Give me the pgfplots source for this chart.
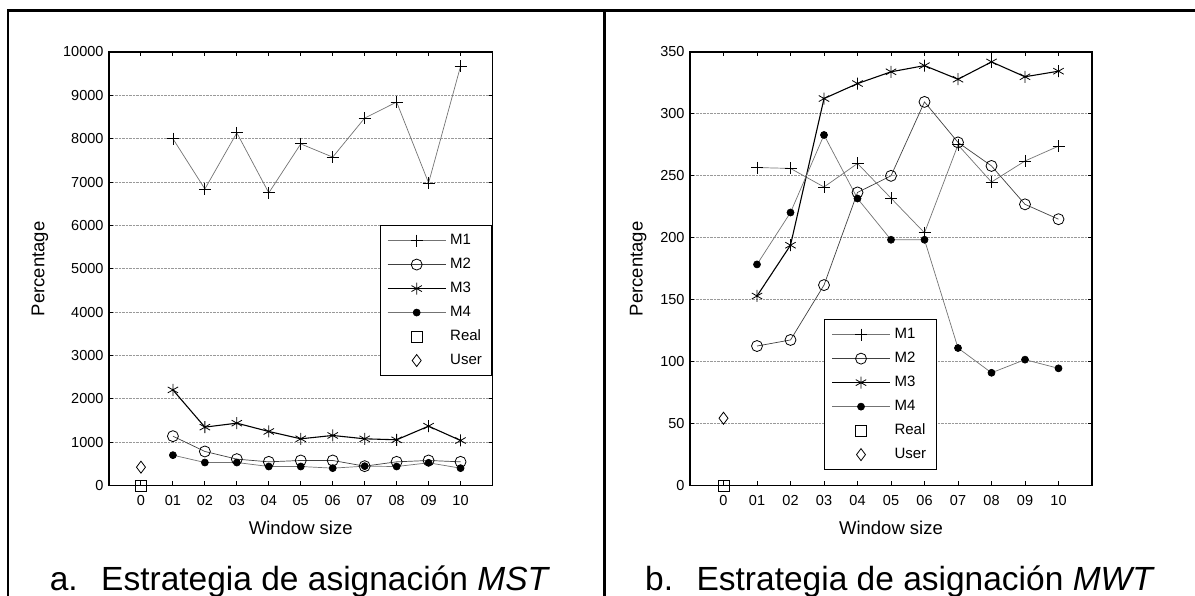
\documentclass[border=0pt]{standalone}
\usepackage{pgfplots}
\pgfplotsset{compat=1.18}
\usepackage{fontspec}
\setmainfont{Liberation Sans}
\definecolor{lgray}{gray}{0.45}
\definecolor{dgray}{gray}{0.25}
\definecolor{gridgray}{gray}{0.6}
\begin{document}
\begin{tikzpicture}
\pgfplotsset{
  common/.style={
    scale only axis,
    xmin=-1, xmax=11,
    xtick={0,1,...,10},
    xticklabels={0,01,02,03,04,05,06,07,08,09,10},
    tick label style={font=\fontsize{14.5}{17}\selectfont},
    /pgf/number format/assume math mode=true,
    /pgf/number format/1000 sep={},
    scaled y ticks=false,
    x tick label style={yshift=-6pt},
    y tick label style={xshift=-2pt},
    label style={font=\fontsize{18.5}{22}\selectfont},
    xlabel={Window size},
    ylabel={Percentage},
    xlabel style={at={(axis description cs:0.5,-0.098)}, anchor=center},
    ymajorgrids,
    grid style={gridgray, densely dotted, line width=0.9pt},
    axis line style={line width=1.3pt},
    major tick style={black, line width=1pt},
    major tick length=4pt,
    legend cell align=left,
    legend style={draw=black, line width=1.2pt, fill=white, anchor=north east,
      inner xsep=7pt, inner ysep=4.5pt, row sep=3pt,
      font=\fontsize{15}{18}\selectfont,
      nodes={inner sep=3pt, text height=11pt, text depth=4pt},
      /tikz/every odd column/.append style={column sep=1pt}},
    legend image code/.code={\draw[mark repeat=2,mark phase=2,##1] plot coordinates {(0pt,0pt) (29pt,0pt) (58pt,0pt)};},
  },
  m1/.style={color=lgray, line width=0.7pt, mark=+, mark size=6pt, mark options={black, solid, line width=0.8pt}},
  m2/.style={color=dgray, line width=0.7pt, mark=o, mark size=5.5pt, mark options={black, solid, fill=white, line width=0.8pt}},
  m3/.style={color=black, line width=1.1pt, mark=asterisk, mark size=6pt, mark options={black, solid, line width=0.8pt}},
  m4/.style={color=lgray, line width=0.7pt, mark=*, mark size=3.5pt, mark options={black, solid}},
  mreal/.style={only marks, mark=square, mark size=5.5pt, mark options={draw=black, solid, line width=0.8pt}},
  muser/.style={only marks, mark=diamond, mark size=6pt, mark options={draw=black, solid, line width=0.8pt}},
}
% ---------------- left panel (MST) ----------------
\begin{axis}[common, at={(109pt,110.5pt)}, anchor=south west,
  width=383.5pt, height=433.5pt,
  ymin=0, ymax=10000, ytick={0,1000,...,10000},
  ylabel style={at={(axis description cs:-0.18,0.5)}, anchor=center},
  legend style={at={(axis description cs:1,0.601)}}]
\addplot[m1] coordinates {(1,8000)(2,6840)(3,8135)(4,6750)(5,7880)(6,7575)(7,8475)(8,8845)(9,6980)(10,9670)};
\addlegendentry{M1}
\addplot[m2] coordinates {(1,1138)(2,785)(3,608)(4,546)(5,577)(6,577)(7,446)(8,546)(9,577)(10,546)};
\addlegendentry{M2}
\addplot[m3] coordinates {(1,2205)(2,1346)(3,1438)(4,1246)(5,1077)(6,1154)(7,1077)(8,1054)(9,1369)(10,1038)};
\addlegendentry{M3}
\addplot[m4] coordinates {(1,700)(2,530)(3,530)(4,438)(5,438)(6,400)(7,446)(8,438)(9,523)(10,400)};
\addlegendentry{M4}
\addplot[mreal] coordinates {(0,0)};
\addlegendentry{Real}
\addplot[muser] coordinates {(0,423)};
\addlegendentry{User}
\end{axis}
% ---------------- right panel (MWT) ----------------
\begin{axis}[common, at={(690pt,110.5pt)}, anchor=south west,
  width=402pt, height=433.5pt,
  ymin=0, ymax=350, ytick={0,50,...,350},
  ylabel style={at={(axis description cs:-0.129,0.5)}, anchor=center},
  legend style={at={(axis description cs:0.614,0.384)}}]
\addplot[m1] coordinates {(1,256.7)(2,256)(3,241)(4,260)(5,232)(6,204)(7,275)(8,245)(9,262)(10,274)};
\addlegendentry{M1}
\addplot[m2] coordinates {(1,112.6)(2,117.5)(3,161.8)(4,236.6)(5,250)(6,309.7)(7,277)(8,258)(9,227)(10,215)};
\addlegendentry{M2}
\addplot[m3] coordinates {(1,153)(2,194)(3,312.4)(4,324.5)(5,334)(6,339)(7,328)(8,342)(9,330)(10,334.5)};
\addlegendentry{M3}
\addplot[m4] coordinates {(1,178.5)(2,220.4)(3,283)(4,231.7)(5,198.4)(6,198.4)(7,111)(8,91)(9,101.6)(10,94.6)};
\addlegendentry{M4}
\addplot[mreal] coordinates {(0,0)};
\addlegendentry{Real}
\addplot[muser] coordinates {(0,54.3)};
\addlegendentry{User}
\end{axis}
% ---------------- frame and captions ----------------
\draw[line width=2.5pt] (8pt,0pt) -- (8pt,585.5pt) -- (1195pt,585.5pt);
\draw[line width=2.5pt] (604.5pt,0pt) -- (604.5pt,585.5pt);
\node[anchor=base, font=\fontsize{33.5}{40}\selectfont, inner sep=0pt] at (300pt,5pt) {a.\hspace{0.7em}Estrategia de asignación \textit{MST}};
\node[anchor=base, font=\fontsize{33.5}{40}\selectfont, inner sep=0pt] at (900pt,5pt) {b.\hspace{0.7em}Estrategia de asignación \textit{MWT}};
\pgfresetboundingbox
\path[use as bounding box] (0pt,0pt) rectangle (1195pt,596pt);
\end{tikzpicture}
\end{document}
